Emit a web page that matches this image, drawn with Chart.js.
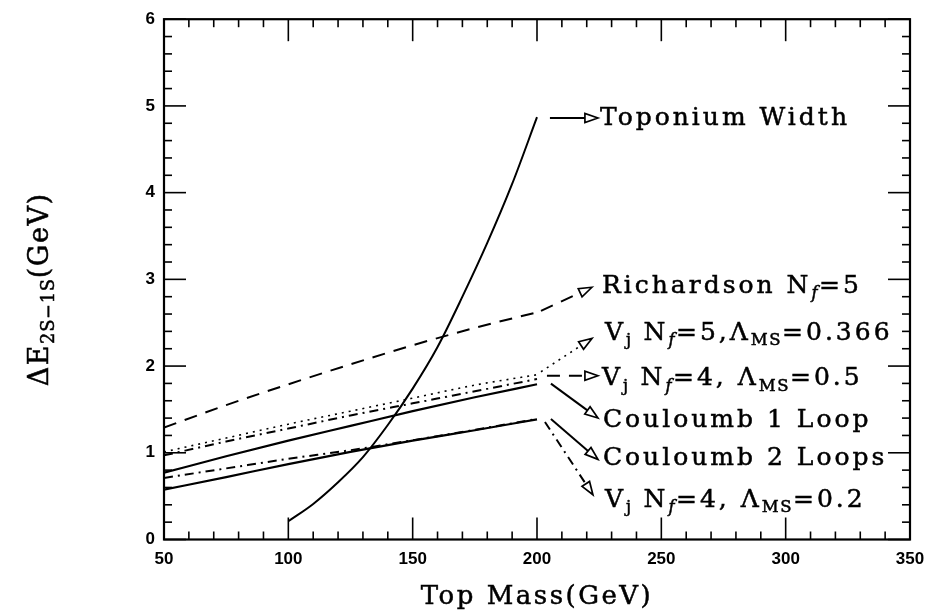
<!DOCTYPE html>
<html>
<head>
<meta charset="utf-8">
<script src="https://cdn.jsdelivr.net/npm/chart.js@4.4.1/dist/chart.umd.min.js"></script>
<style>
  html, body { margin: 0; padding: 0; background: #fff; }
  #wrap { width: 935px; height: 616px; }
</style>
</head>
<body>
<div id="wrap"><canvas id="c" width="935" height="616"></canvas></div>
<script>
// Top mass grid (GeV) shared by the level-splitting curves
const massGrid = [50, 75, 100, 125, 150, 175, 200];
// 2S-1S splitting (GeV) for each potential
const richardson   = [1.29, 1.55, 1.79, 2.02, 2.24, 2.44, 2.62];
const vjNf5        = [1.01, 1.17, 1.33, 1.48, 1.63, 1.78, 1.90];
const vjNf4High    = [0.97, 1.13, 1.28, 1.43, 1.57, 1.71, 1.85];
const coulomb1Loop = [0.77, 0.96, 1.14, 1.31, 1.48, 1.64, 1.79];
const coulomb2Loop = [0.575, 0.72, 0.87, 1.01, 1.14, 1.26, 1.385];
const vjNf4Low     = [0.71, 0.82, 0.93, 1.03, 1.145, 1.265, 1.39];
// Toponium width (GeV) against top mass
const widthMass     = [100, 110, 120, 130, 140, 150, 160, 170, 180, 190, 200];
const toponiumWidth = [0.21, 0.41, 0.66, 0.95, 1.32, 1.74, 2.22, 2.80, 3.42, 4.10, 4.87];
// Axis ranges and tick spacing
const xRange = [50, 350], xMajor = 50, xMinor = 10;
const yRange = [0, 6],    yMajor = 1,  yMinor = 0.2;

const SOLID = [], DASH = [13, 9], DOT = [2, 5], DASHDOT = [9, 5, 2, 5];

// Curve labels: text pieces, label anchor and pointer (data units)
const curveLabels = [
  { parts: [['Toponium Width']], at: [225.3, 4.86], from: [205.2, 4.86], to: [224.5, 4.86], dash: SOLID },
  { parts: [['Richardson N'], ['f', 'sub'], ['=5']], at: [226.1, 2.92], from: [201.6, 2.637], to: [222.1, 2.909], dash: DASH },
  { parts: [['V'], ['j', 'sub'], [' N'], ['f', 'sub'], ['=5,Λ'], ['MS', 'sub'], ['=0.366']], at: [227.3, 2.376], from: [201.6, 1.934], to: [222.1, 2.319], dash: DOT },
  { parts: [['V'], ['j', 'sub'], [' N'], ['f', 'sub'], ['=4, Λ'], ['MS', 'sub'], ['=0.5']], at: [226.1, 1.854], from: [204.0, 1.888], to: [224.5, 1.888], dash: DASH },
  { parts: [['Couloumb 1 Loop']], at: [226.5, 1.378], from: [205.6, 1.798], to: [224.5, 1.401], dash: SOLID },
  { parts: [['Couloumb 2 Loops']], at: [226.5, 0.936], from: [205.6, 1.389], to: [224.5, 0.924], dash: SOLID },
  { parts: [['V'], ['j', 'sub'], [' N'], ['f', 'sub'], ['=4, Λ'], ['MS', 'sub'], ['=0.2']], at: [227.3, 0.448], from: [203.2, 1.355], to: [222.5, 0.516], dash: DASHDOT }
];

const SERIF = '"DejaVu Serif", "Liberation Serif", serif';
const SANS = '"Liberation Sans", Arial, sans-serif';

function pts(xs, ys) { return xs.map((v, i) => ({ x: v, y: ys[i] })); }

// Draws text made of normal and subscript pieces; returns its width
function drawRich(ctx, parts, x, y, size, spacing, measureOnly) {
  let cx = x;
  for (const [t, kind] of parts) {
    const sub = kind === 'sub';
    const sz = sub ? size * 0.66 : size;
    const italic = sub && t === 'f' ? 'italic ' : '';
    ctx.font = `${italic}${sz}px ${SERIF}`;
    ctx.letterSpacing = (sub ? spacing * 0.5 : spacing) + 'px';
    if (!measureOnly) {
      const ty = y + (sub ? size * 0.3 : 0);
      ctx.fillText(t, cx, ty);
      ctx.lineWidth = 0.5;
      ctx.strokeText(t, cx, ty);
    }
    cx += ctx.measureText(t).width;
  }
  return cx - x;
}

function drawArrow(ctx, x1, y1, x2, y2, dash) {
  const ang = Math.atan2(y2 - y1, x2 - x1);
  const L = 13, W = 4.5;
  const bx = x2 - L * Math.cos(ang), by = y2 - L * Math.sin(ang);
  ctx.lineWidth = dash === DOT ? 1.6 : 2;
  ctx.setLineDash(dash);
  ctx.beginPath(); ctx.moveTo(x1, y1); ctx.lineTo(bx, by); ctx.stroke();
  ctx.setLineDash([]);
  ctx.lineWidth = 1.7;
  ctx.beginPath();
  ctx.moveTo(x2, y2);
  ctx.lineTo(bx - W * Math.sin(ang), by + W * Math.cos(ang));
  ctx.lineTo(bx + W * Math.sin(ang), by - W * Math.cos(ang));
  ctx.closePath();
  ctx.fillStyle = '#fff'; ctx.fill(); ctx.stroke();
}

const framePlugin = {
  id: 'frameAndLabels',
  afterDraw(chart) {
    const { ctx, chartArea: a, scales: { x, y } } = chart;
    ctx.save();
    ctx.strokeStyle = '#000';
    ctx.lineCap = 'butt';
    // inward ticks on all four sides
    ctx.lineWidth = 1.6;
    const seg = (x1, y1, x2, y2) => { ctx.beginPath(); ctx.moveTo(x1, y1); ctx.lineTo(x2, y2); ctx.stroke(); };
    const nx = Math.round((xRange[1] - xRange[0]) / xMinor);
    for (let i = 0; i <= nx; i++) {
      const v = xRange[0] + i * xMinor;
      const px = x.getPixelForValue(v);
      const len = (Math.abs(v / xMajor - Math.round(v / xMajor)) < 1e-6) ? 22 : 8;
      seg(px, a.bottom, px, a.bottom - len);
      seg(px, a.top, px, a.top + len);
    }
    const ny = Math.round((yRange[1] - yRange[0]) / yMinor);
    for (let i = 0; i <= ny; i++) {
      const v = yRange[0] + i * yMinor;
      const py = y.getPixelForValue(v);
      const len = (Math.abs(v / yMajor - Math.round(v / yMajor)) < 1e-6) ? 22 : 8;
      seg(a.left, py, a.left + len, py);
      seg(a.right, py, a.right - len, py);
    }
    ctx.lineWidth = 2.2;
    ctx.strokeRect(a.left, a.top, a.right - a.left, a.bottom - a.top);

    // pointers and curve labels
    ctx.textBaseline = 'middle';
    ctx.textAlign = 'left';
    for (const lab of curveLabels) {
      drawArrow(ctx,
        x.getPixelForValue(lab.from[0]), y.getPixelForValue(lab.from[1]),
        x.getPixelForValue(lab.to[0]), y.getPixelForValue(lab.to[1]), lab.dash);
      ctx.fillStyle = '#000';
      drawRich(ctx, lab.parts, x.getPixelForValue(lab.at[0]), y.getPixelForValue(lab.at[1]), 25, 3);
    }

    // axis titles
    const xt = [['Top Mass(GeV)']];
    const wX = drawRich(ctx, xt, 0, 0, 26, 2.5, true);
    drawRich(ctx, xt, (a.left + a.right) / 2 - wX / 2, 597, 26, 2.5);

    const yt = [['ΔE'], ['2S−1S', 'sub'], ['(GeV)']];
    ctx.save();
    ctx.translate(41, (a.top + a.bottom) / 2 + 10);
    ctx.rotate(-Math.PI / 2);
    const wY = drawRich(ctx, yt, 0, 0, 27, 1.5, true);
    drawRich(ctx, yt, -wY / 2, 0, 27, 1.5);
    ctx.restore();
    ctx.restore();
  }
};

const lineDs = (data, dash, width) => ({
  data, borderColor: '#000', borderWidth: width, borderDash: dash,
  pointRadius: 0, fill: false, cubicInterpolationMode: 'monotone'
});

new Chart(document.getElementById('c'), {
  type: 'line',
  data: {
    datasets: [
      lineDs(pts(widthMass, toponiumWidth), SOLID, 2),
      lineDs(pts(massGrid, richardson), DASH, 2),
      lineDs(pts(massGrid, vjNf5), DOT, 1.6),
      lineDs(pts(massGrid, vjNf4High), DASHDOT, 2),
      lineDs(pts(massGrid, coulomb1Loop), SOLID, 2.2),
      lineDs(pts(massGrid, coulomb2Loop), SOLID, 2.2),
      lineDs(pts(massGrid, vjNf4Low), DASHDOT, 2)
    ]
  },
  options: {
    responsive: false,
    animation: false,
    devicePixelRatio: 1,
    layout: { padding: { left: 0, top: 10, right: 25, bottom: 0 } },
    plugins: { legend: { display: false }, tooltip: { enabled: false } },
    scales: {
      x: {
        type: 'linear', min: xRange[0], max: xRange[1],
        grid: { display: false, drawTicks: false },
        border: { display: false },
        ticks: { stepSize: xMajor, padding: 10, color: '#000',
                 font: { family: SANS, size: 17, weight: 'bold' } },
        afterFit(s) { s.height = 76.5; }
      },
      y: {
        min: yRange[0], max: yRange[1],
        grid: { display: false, drawTicks: false },
        border: { display: false },
        ticks: { stepSize: yMajor, padding: 9, color: '#000',
                 font: { family: SANS, size: 17, weight: 'bold' } },
        afterFit(s) { s.width = 164; }
      }
    }
  },
  plugins: [framePlugin]
});
</script>
</body>
</html>
